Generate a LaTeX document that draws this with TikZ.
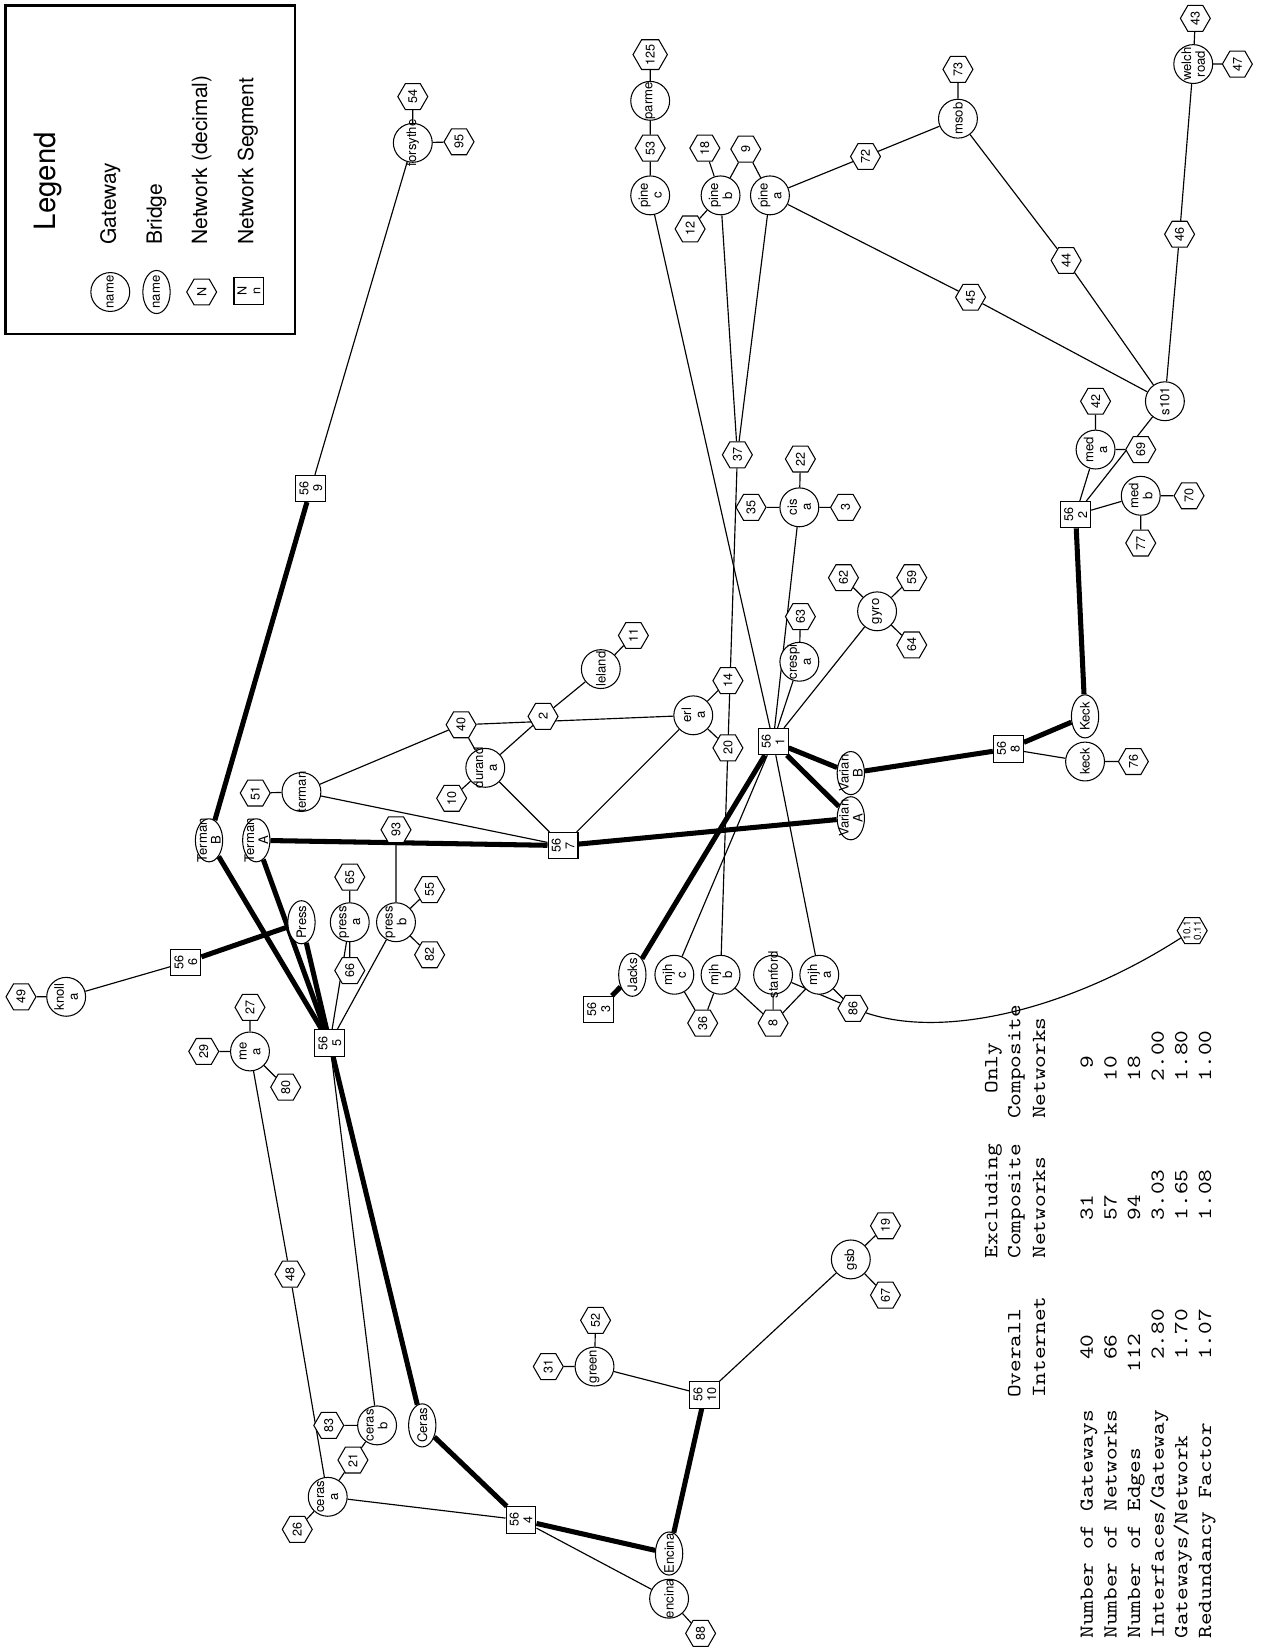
\documentclass[tikz,border=0pt]{standalone}
\usepackage{fontspec}
\setmainfont{TeX Gyre Heros}
\newfontfamily\tabfont{lmmono10-regular.otf}[FakeStretch=1.21]
\usetikzlibrary{shapes.geometric}
\pgfdeclarelayer{bg}
\pgfsetlayers{bg,main}
\newcommand\lblfont{\fontsize{12.5}{13.2}\selectfont}
\newcommand\numfont{\fontsize{12}{13.2}\selectfont}
\newcommand\tabsize{\tabfont\fontsize{19}{22}\selectfont}
% shape node plus a separate, freely overflowing label
\newcommand\GwNode[3]{\node[gw] (#1) at (#2) {}; \node[txt] (#1-t) at (#1) {#3};}
\newcommand\BrNode[3]{\node[br] (#1) at (#2) {}; \node[txt] (#1-t) at (#1) {#3};}
\newcommand\NetNode[3]{\node[net] (#1) at (#2) {#3};}
\newcommand\SegNode[3]{\node[seg] (#1) at (#2) {#3};}
\begin{document}
\begin{tikzpicture}[x=1pt, y=-1pt,
  gw/.style={circle, draw, fill=white, line width=1pt, minimum size=37pt, inner sep=0pt},
  br/.style={ellipse, draw, fill=white, line width=1pt, minimum width=26pt, minimum height=41pt, inner sep=0pt},
  net/.style={regular polygon, regular polygon sides=6, shape border rotate=90, draw, fill=white,
              line width=1pt, minimum size=28.5pt, inner sep=0pt, rotate=90, font=\numfont},
  seg/.style={rectangle, draw, fill=white, line width=1pt, minimum width=25pt, minimum height=28.5pt,
              inner sep=0pt, rotate=90, align=center, font=\numfont},
  txt/.style={rotate=90, align=center, inner sep=0pt, font=\lblfont},
  link/.style={line width=1.1pt},
  trunk/.style={line width=4.8pt},
  cell/.style={rotate=90, anchor=base west, inner sep=0pt, font=\tabsize},
  legtext/.style={rotate=90, anchor=west, inner sep=0pt, font=\fontsize{20}{24}\selectfont},
]
\useasboundingbox (0,0) rectangle (1200,1568);

% ---------------- legend ----------------
\draw[line width=2.5pt] (5,5) rectangle (281,318);
\node[legtext, font=\fontsize{28}{30}\selectfont] (legtitle) at (46,219.5) {Legend};
\node[legtext] (leggw) at (105,233) {Gateway};
\node[legtext] (legbr) at (149,233) {Bridge};
\node[legtext] (legnet) at (192,233) {Network (decimal)};
\node[legtext] (legseg) at (236,233) {Network Segment};
\GwNode{lgw}{105,278}{name}
\BrNode{lbr}{149,278}{name}
\NetNode{lnet}{192,278}{N}
\SegNode{lseg}{237,277}{N\\n}

% ---------------- gateways ----------------
\GwNode{forsythe}{393,136}{forsythe}
\GwNode{parme}{619,96}{parme}
\GwNode{pinec}{619,186}{pine\\c}
\GwNode{pineb}{686,186}{pine\\b}
\GwNode{pinea}{733,186}{pine\\a}
\GwNode{msob}{912,113}{msob}
\GwNode{welch}{1136,61}{welch\\road}
\GwNode{s101}{1109,382}{s101}
\GwNode{meda}{1043,428}{med\\a}
\GwNode{medb}{1086,472}{med\\b}
\GwNode{cisa}{761,483}{cis\\a}
\GwNode{gyro}{835,582}{gyro}
\GwNode{crespia}{761,630}{crespi\\a}
\GwNode{erla}{660,681}{erl\\a}
\GwNode{leland}{572,637}{leland}
\GwNode{duranda}{462,731}{durand\\a}
\GwNode{terman}{287,754}{terman}
\GwNode{keck}{1033,725}{keck}
\GwNode{pressa}{333,878}{press\\a}
\GwNode{pressb}{377,878}{press\\b}
\GwNode{knolla}{63,949}{knoll\\a}
\GwNode{mea}{238,1001}{me\\a}
\GwNode{mjhc}{642,928}{mjh\\c}
\GwNode{mjhb}{686,928}{mjh\\b}
\GwNode{stanford}{736,928}{stanford}
\GwNode{mjha}{780,928}{mjh\\a}
\GwNode{gsb}{810,1199}{gsb}
\GwNode{green}{566,1301}{green}
\GwNode{cerasb}{359,1357}{ceras\\b}
\GwNode{cerasa}{312,1425}{ceras\\a}
\GwNode{encina}{637,1522}{encina}

% ---------------- bridges ----------------
\BrNode{TermanB}{199,800}{Terman\\B}
\BrNode{TermanA}{244,800}{Terman\\A}
\BrNode{Press}{287,878}{Press}
\BrNode{VarianB}{810,736}{Varian\\B}
\BrNode{VarianA}{810,779}{Varian\\A}
\BrNode{Keck}{1033,682}{Keck}
\BrNode{Jacks}{602,928}{Jacks}
\BrNode{Ceras}{402,1357}{Ceras}
\BrNode{Encina}{637,1479}{Encina}

% ---------------- network segments ----------------
\SegNode{s1}{736,706}{56\\1}
\SegNode{s2}{1024,490}{56\\2}
\SegNode{s3}{570,961}{56\\3}
\SegNode{s4}{496,1447}{56\\4}
\SegNode{s5}{314,993}{56\\5}
\SegNode{s6}{177,916}{56\\6}
\SegNode{s7}{536,805}{56\\7}
\SegNode{s8}{960,713}{56\\8}
\SegNode{s9}{296,465}{56\\9}
\SegNode{s10}{671,1328}{56\\10}

% ---------------- networks ----------------
\NetNode{n54}{393,92}{54}
\NetNode{n95}{437,135}{95}
\NetNode{n125}{619,52}{125}
\NetNode{n53}{619,141}{53}
\NetNode{n18}{671,141}{18}
\NetNode{n9}{710,142}{9}
\NetNode{n12}{657,218}{12}
\NetNode{n72}{824,149}{72}
\NetNode{n73}{912,66}{73}
\NetNode{n44}{1015,248}{44}
\NetNode{n45}{924,283}{45}
\NetNode{n43}{1138,17.5}{43}
\NetNode{n47}{1178,61}{47}
\NetNode{n46}{1123,223}{46}
\NetNode{n42}{1043,382}{42}
\NetNode{n69}{1086,428}{69}
\NetNode{n70}{1132,472}{70}
\NetNode{n77}{1086,517}{77}
\NetNode{n37}{702,433}{37}
\NetNode{n22}{762,437}{22}
\NetNode{n35}{715,483}{35}
\NetNode{n3}{805,483}{3}
\NetNode{n62}{803,550}{62}
\NetNode{n59}{868,550}{59}
\NetNode{n64}{868,614}{64}
\NetNode{n63}{762,587}{63}
\NetNode{n14}{693,648}{14}
\NetNode{n20}{693,712}{20}
\NetNode{n11}{603,605}{11}
\NetNode{n2}{517,682}{2}
\NetNode{n40}{439,690}{40}
\NetNode{n10}{430,760}{10}
\NetNode{n51}{243,755}{51}
\NetNode{n76}{1079,725}{76}
\NetNode{n93}{377,790}{93}
\NetNode{n65}{333,835}{65}
\NetNode{n55}{409,847}{55}
\NetNode{n82}{409,909}{82}
\NetNode{n66}{333,924}{66}
\NetNode{n49}{20,949}{49}
\NetNode{n27}{238,959}{27}
\NetNode{n29}{194,1001}{29}
\NetNode{n80}{272,1035}{80}
\NetNode{n36}{669,974}{36}
\NetNode{n8}{736,974}{8}
\NetNode{n86}{812,960}{86}
\NetNode{n101}{1135,886}{}
\node[txt, font=\fontsize{9.5}{10}\selectfont] (n101-t) at (n101) {10.1\\0.11};
\NetNode{n19}{843,1167}{19}
\NetNode{n67}{843,1233}{67}
\NetNode{n48}{276,1213}{48}
\NetNode{n52}{567,1257}{52}
\NetNode{n31}{522,1301}{31}
\NetNode{n83}{313,1357}{83}
\NetNode{n21}{336,1390}{21}
\NetNode{n26}{283,1456}{26}
\NetNode{n88}{667,1555}{88}

% ---------------- connectors ----------------
\begin{pgfonlayer}{bg}
\foreach \a/\b in {forsythe/n54, forsythe/n95, forsythe/s9,
    pinec/n53, n53/parme, parme/n125,
    pineb/n18, pineb/n9, pinea/n9, pineb/n12,
    pinea/n72, n72/msob, msob/n73, msob/n44, n44/s101,
    pinea/n45, n45/s101,
    welch/n43, welch/n47, welch/n46, n46/s101,
    s101/s2, meda/n69, meda/n42, meda/s2,
    medb/s2, medb/n70, medb/n77,
    s8/keck, keck/n76,
    s1/pinec, s1/cisa, s1/crespia, s1/gyro, s1/mjhc, s1/mjha,
    cisa/n22, cisa/n35, cisa/n3,
    gyro/n62, gyro/n59, gyro/n64, crespia/n63,
    pineb/n37, pinea/n37, n37/mjhb,
    erla/n14, erla/n20, n40/erla, erla/s7,
    n2/leland, leland/n11, duranda/n2, n40/duranda,
    terman/n40, terman/n51, terman/s7,
    duranda/n10, duranda/s7,
    mjhc/n36, mjhb/n36, mjhb/n8, stanford/n8, mjha/n8,
    stanford/n86, mjha/n86,
    pressa/n65, pressa/n66, s5/pressa,
    pressb/n55, pressb/n82, pressb/n93, pressb/s5,
    s6/knolla, knolla/n49,
    mea/n27, mea/n29, mea/n80, mea/n48, n48/cerasa,
    s5/cerasb, cerasb/n83, cerasb/n21, n21/cerasa, cerasa/n26, cerasa/s4,
    s4/encina, encina/n88,
    s10/green, green/n31, green/n52, s10/gsb, gsb/n19, gsb/n67}
  \draw[link] (\a) -- (\b);
\draw[link] (n86) .. controls (900,990) and (1020,960) .. (n101);
\foreach \a/\b in {s9/TermanB, TermanB/s5, TermanA/s5, TermanA/s7, s7/VarianA,
    s1/VarianA, s1/VarianB, VarianB/s8, s8/Keck, Keck/s2,
    s1/Jacks, Jacks/s3,
    Press/s5, Press/s6,
    s5/Ceras, Ceras/s4, s4/Encina, Encina/s10}
  \draw[trunk] (\a) -- (\b);
\end{pgfonlayer}

% ---------------- statistics table ----------------
\node[cell] (h1a) at (949.5,1198.2) {Excluding};
\node[cell] (h1b) at (949.5,1041.4) {Only};
\node[cell] (h2a) at (971.5,1330.9) {Overall};
\node[cell] (h2b) at (971.5,1198.2) {Composite};
\node[cell] (h2c) at (971.5,1065.5) {Composite};
\node[cell] (h3a) at (995,1330.9) {Internet};
\node[cell] (h3b) at (995,1198.2) {Networks};
\node[cell] (h3c) at (995,1065.5) {Networks};

\node[cell] (r1a) at (1040.5,1560) {Number of Gateways};
\node[cell] (r1b) at (1040.5,1294.7) {40};
\node[cell] (r1c) at (1040.5,1162.0) {31};
\node[cell] (r1d) at (1040.5,1017.3) {9};

\node[cell] (r2a) at (1063,1560) {Number of Networks};
\node[cell] (r2b) at (1063,1294.7) {66};
\node[cell] (r2c) at (1063,1162.0) {57};
\node[cell] (r2d) at (1063,1029.4) {10};

\node[cell] (r3a) at (1085.5,1560) {Number of Edges};
\node[cell] (r3b) at (1085.5,1306.7) {112};
\node[cell] (r3c) at (1085.5,1162.0) {94};
\node[cell] (r3d) at (1085.5,1029.4) {18};

\node[cell] (r4a) at (1108,1560) {Interfaces/Gateway};
\node[cell] (r4b) at (1108,1294.7) {2.80};
\node[cell] (r4c) at (1108,1162.0) {3.03};
\node[cell] (r4d) at (1108,1029.4) {2.00};

\node[cell] (r5a) at (1130.5,1560) {Gateways/Network};
\node[cell] (r5b) at (1130.5,1294.7) {1.70};
\node[cell] (r5c) at (1130.5,1162.0) {1.65};
\node[cell] (r5d) at (1130.5,1029.4) {1.80};

\node[cell] (r6a) at (1153,1560) {Redundancy Factor};
\node[cell] (r6b) at (1153,1294.7) {1.07};
\node[cell] (r6c) at (1153,1162.0) {1.08};
\node[cell] (r6d) at (1153,1029.4) {1.00};
\end{tikzpicture}
\end{document}
